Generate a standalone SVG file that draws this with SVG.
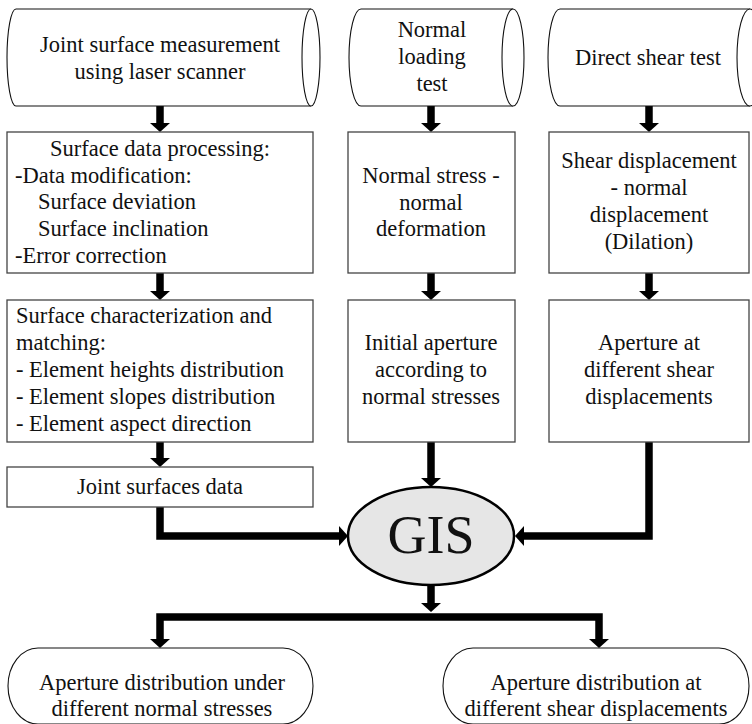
<svg xmlns="http://www.w3.org/2000/svg" width="752" height="724" viewBox="0 0 752 724">
<style>
text{font-family:"Liberation Serif","Times New Roman",serif;font-size:22.5px;fill:#111}
.c{text-anchor:middle}
.box{fill:#fff;stroke:#444;stroke-width:1.3}
.cyl{fill:#fff;stroke:#111;stroke-width:1.1}
.term{fill:#fff;stroke:#111;stroke-width:1.1}
.con{fill:none;stroke:#000;stroke-width:7.5;stroke-linejoin:miter}
</style>
<defs>
<marker id="ah" viewBox="0 0 9 20" refX="0" refY="10" markerWidth="9" markerHeight="20" markerUnits="userSpaceOnUse" orient="auto">
<path d="M0,0 L9,10 L0,20 Z" fill="#000"/>
</marker>
</defs>
<rect width="752" height="724" fill="#fff"/>

<g id="connectors">
<path class="con" d="M160,106 V123" marker-end="url(#ah)"/>
<path class="con" d="M431,106 V123" marker-end="url(#ah)"/>
<path class="con" d="M649,106 V123" marker-end="url(#ah)"/>
<path class="con" d="M160,273 V291" marker-end="url(#ah)"/>
<path class="con" d="M431,273 V291" marker-end="url(#ah)"/>
<path class="con" d="M649,273 V291" marker-end="url(#ah)"/>
<path class="con" d="M160,442 V458" marker-end="url(#ah)"/>
<path class="con" d="M160,507 V536 H339" marker-end="url(#ah)"/>
<path class="con" d="M431,442 V478" marker-end="url(#ah)"/>
<path class="con" d="M649,442 V536 H524" marker-end="url(#ah)"/>
<path class="con" d="M431,585 V603" marker-end="url(#ah)"/>
<path class="con" d="M431,617 H160 V639" marker-end="url(#ah)"/>
<path class="con" d="M431,617 H599 V639" marker-end="url(#ah)"/>
</g>

<g id="laser">
<path class="cyl" d="M16,9 H311 A9,48.5 0 0 1 311,106 H16 A9,48.5 0 0 1 16,9 Z"/>
<path class="cyl" d="M311,9 A9,48.5 0 0 0 311,106" fill="none"/>
<text class="c" x="160" y="52">Joint surface measurement</text>
<text class="c" x="160" y="79">using laser scanner</text>
</g>

<g id="normal-test">
<path class="cyl" d="M361,9 H513 A11,48.5 0 0 1 513,106 H361 A12,48.5 0 0 1 361,9 Z"/>
<path class="cyl" d="M513,9 A11,48.5 0 0 0 513,106" fill="none"/>
<text class="c" x="432" y="37">Normal</text>
<text class="c" x="432" y="64">loading</text>
<text class="c" x="432" y="91">test</text>
</g>

<g id="shear-test">
<path class="cyl" d="M560,9 H750 A13,48.5 0 0 1 750,106 H560 A12,48.5 0 0 1 560,9 Z"/>
<path class="cyl" d="M750,9 A13,48.5 0 0 0 750,106" fill="none"/>
<text class="c" x="648" y="65">Direct shear test</text>
</g>

<g id="processing">
<rect class="box" x="7" y="132" width="306" height="141"/>
<text class="c" x="160" y="156">Surface data processing:</text>
<text x="15" y="183">-Data modification:</text>
<text x="38" y="209">Surface deviation</text>
<text x="38" y="236">Surface inclination</text>
<text x="15" y="263">-Error correction</text>
</g>

<g id="normal-stress">
<rect class="box" x="348" y="132" width="167" height="141"/>
<text class="c" x="431" y="183">Normal stress -</text>
<text class="c" x="431" y="210">normal</text>
<text class="c" x="431" y="236">deformation</text>
</g>

<g id="shear-disp">
<rect class="box" x="549" y="132" width="200" height="141"/>
<text class="c" x="649" y="168">Shear displacement</text>
<text class="c" x="649" y="195">- normal</text>
<text class="c" x="649" y="222">displacement</text>
<text class="c" x="649" y="249">(Dilation)</text>
</g>

<g id="characterization">
<rect class="box" x="7" y="300" width="306" height="142"/>
<text x="16" y="323">Surface characterization and</text>
<text x="16" y="350">matching:</text>
<text x="16" y="377">- Element heights distribution</text>
<text x="16" y="404">- Element slopes distribution</text>
<text x="16" y="431">- Element aspect direction</text>
</g>

<g id="initial-aperture">
<rect class="box" x="348" y="300" width="167" height="142"/>
<text class="c" x="431" y="350">Initial aperture</text>
<text class="c" x="431" y="377">according to</text>
<text class="c" x="431" y="404">normal stresses</text>
</g>

<g id="aperture-shear">
<rect class="box" x="549" y="300" width="200" height="142"/>
<text class="c" x="649" y="350">Aperture at</text>
<text class="c" x="649" y="377">different shear</text>
<text class="c" x="649" y="404">displacements</text>
</g>

<g id="joint-data">
<rect class="box" x="7" y="467" width="306" height="40"/>
<text class="c" x="160" y="494">Joint surfaces data</text>
</g>

<g id="gis">
<ellipse cx="431" cy="536" rx="83" ry="49" fill="#e6e6e6" stroke="#000" stroke-width="2.5"/>
<text class="c" x="431" y="553" style="font-size:54px">GIS</text>
</g>

<g id="out-normal">
<rect class="term" x="8" y="648" width="305" height="76" rx="30" ry="38"/>
<text class="c" x="162" y="690">Aperture distribution under</text>
<text class="c" x="162" y="716">different normal stresses</text>
</g>

<g id="out-shear">
<rect class="term" x="443" y="648" width="306" height="76" rx="30" ry="38"/>
<text class="c" x="596" y="690">Aperture distribution at</text>
<text class="c" x="596" y="716">different shear displacements</text>
</g>
</svg>
